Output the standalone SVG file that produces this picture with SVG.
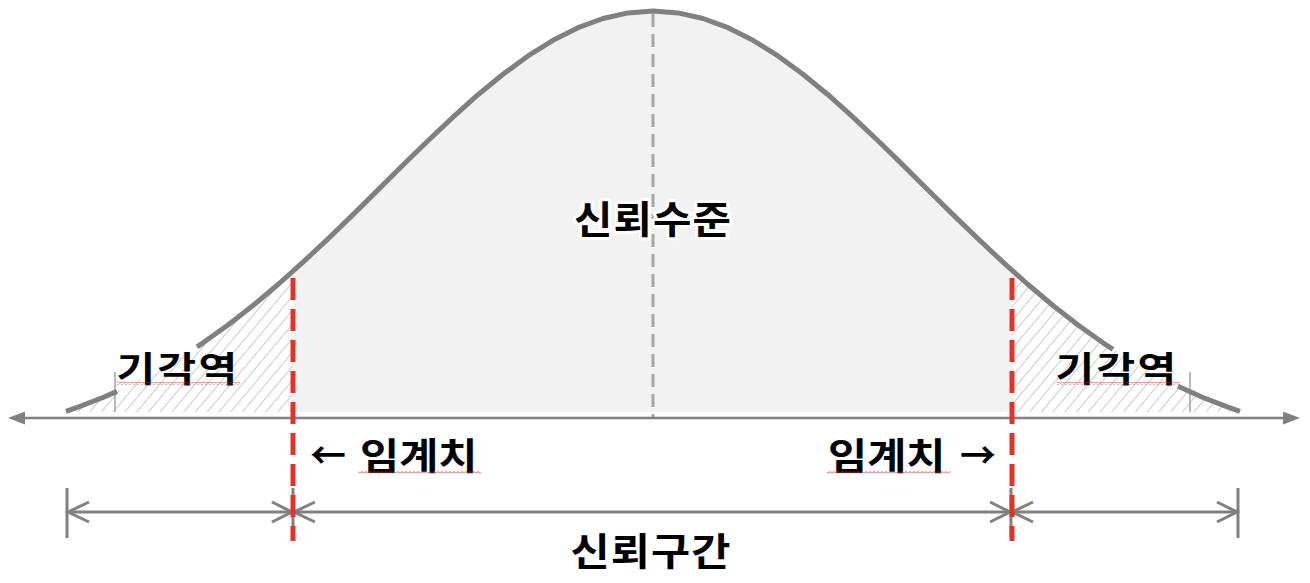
<svg xmlns="http://www.w3.org/2000/svg" width="1310" height="583" viewBox="0 0 1310 583">
<style>
.curve{fill:none;stroke:#808080;stroke-width:5;stroke-linejoin:round;stroke-linecap:butt}
.axis{fill:none;stroke:#808080;stroke-width:2.5}
.dim{fill:none;stroke:#808080;stroke-width:3}
.red{fill:none;stroke:#e2322a;stroke-width:5;stroke-dasharray:22 9}
.ctr{fill:none;stroke:#a6a6a6;stroke-width:3;stroke-dasharray:13 7}
.tick{fill:none;stroke:#a0a0a0;stroke-width:1.5}
.lbl{font-family:"Noto Sans CJK KR","Noto Sans",sans-serif;font-weight:700;fill:#000}
.halo{stroke:#ffffff;stroke-width:6;stroke-linejoin:round;paint-order:stroke}
</style>
<defs>
<pattern id="hatch" patternUnits="userSpaceOnUse" width="9" height="9" patternTransform="rotate(40)">
<line x1="0" y1="0" x2="0" y2="9" stroke="#cbcbcb" stroke-width="2"/>
</pattern>
<pattern id="squig" patternUnits="userSpaceOnUse" width="4" height="3">
<polyline points="0,2.5 2,0.5 4,2.5" fill="none" stroke="#e03030" stroke-width="0.9"/>
</pattern>
</defs>

<g id="areas">
<polygon fill="#f2f2f2" points="293,271.3 303,262.2 328,238.8 353,214.6 378,189.9 403,165.1 428,140.7 453,117.1 478,94.7 503,74.2 528,55.9 553,40.3 578,27.7 603,18.5 628,12.9 653,11 678,12.9 703,18.5 728,27.7 753,40.3 778,55.9 803,74.2 828,94.7 853,117.1 878,140.7 903,165.1 928,189.9 953,214.6 978,238.8 1003,262.2 1012,270.5 1012,412 293,412"/>
<polygon fill="url(#hatch)" points="66,411.4 78,407.2 103,397.5 128,386.3 153,373.4 178,359.0 203,342.8 228,325.0 253,305.5 278,284.5 293,271.3 293,412 66,412"/>
<polygon fill="url(#hatch)" points="1012,270.5 1028,284.5 1053,305.5 1078,325.0 1103,342.8 1128,359.0 1153,373.4 1178,386.3 1203,397.5 1228,407.2 1240,411.4 1240,412 1012,412"/>
</g>

<g id="connectors">
<line class="ctr" x1="653" y1="14" x2="653" y2="418"/>
<line class="axis" x1="20" y1="418" x2="1290" y2="418"/>
<polygon fill="#808080" points="8,418 25,411.5 25,424.5"/>
<polygon fill="#808080" points="1300,418 1283,411.5 1283,424.5"/>
<line class="tick" x1="115" y1="372" x2="115" y2="412"/>
<line class="tick" x1="1190" y1="372" x2="1190" y2="412"/>
<line class="dim" x1="67" y1="488" x2="67" y2="538"/>
<line class="dim" x1="293" y1="488" x2="293" y2="538"/>
<line class="dim" x1="1011" y1="488" x2="1011" y2="538"/>
<line class="dim" x1="1238" y1="488" x2="1238" y2="538"/>
<line class="dim" x1="67" y1="512" x2="1238" y2="512"/>
<polyline class="dim" points="89,502 68,512 89,522"/>
<polyline class="dim" points="272,502 292,512 272,522"/>
<polyline class="dim" points="315,502 294,512 315,522"/>
<polyline class="dim" points="990,502 1010,512 990,522"/>
<polyline class="dim" points="1033,502 1012,512 1033,522"/>
<polyline class="dim" points="1217,502 1237,512 1217,522"/>
<polyline class="curve" points="66,411.4 78,407.2 103,397.5 117,391.4"/>
<polyline class="curve" points="197,346.8 203,342.8 228,325.0 253,305.5 278,284.5 303,262.2 328,238.8 353,214.6 378,189.9 403,165.1 428,140.7 453,117.1 478,94.7 503,74.2 528,55.9 553,40.3 578,27.7 603,18.5 628,12.9 653,11 678,12.9 703,18.5 728,27.7 753,40.3 778,55.9 803,74.2 828,94.7 853,117.1 878,140.7 903,165.1 928,189.9 953,214.6 978,238.8 1003,262.2 1028,284.5 1053,305.5 1078,325.0 1103,342.8 1113,349.4"/>
<polyline class="curve" points="1178,386.3 1203,397.5 1228,407.2 1240,411.4"/>
<line class="red" x1="293" y1="278" x2="293" y2="541"/>
<line class="red" x1="1012" y1="278" x2="1012" y2="541"/>
</g>

<g id="label-confidence-level">
<text class="lbl halo" transform="translate(653,233) scale(1.1,1)" font-size="38" letter-spacing="1" text-anchor="middle">신뢰수준</text>
</g>
<g id="label-reject-left">
<text class="lbl" transform="translate(178,382) scale(1.2,1)" font-size="35" letter-spacing="2" text-anchor="middle">기각역</text>
<rect x="117" y="382" width="123" height="3" fill="url(#squig)"/>
</g>
<g id="label-reject-right">
<text class="lbl" transform="translate(1117,382) scale(1.2,1)" font-size="35" letter-spacing="2" text-anchor="middle">기각역</text>
<rect x="1057" y="382" width="123" height="3" fill="url(#squig)"/>
</g>
<g id="label-critical-left">
<text class="lbl" x="310" y="469" font-size="36">←</text>
<text class="lbl" transform="translate(360,470) scale(1.15,1)" font-size="37">임계치</text>
<rect x="358" y="471" width="123" height="3" fill="url(#squig)"/>
</g>
<g id="label-critical-right">
<text class="lbl" transform="translate(828,470) scale(1.15,1)" font-size="37">임계치</text>
<text class="lbl" x="960" y="469" font-size="36">→</text>
<rect x="827" y="471" width="123" height="3" fill="url(#squig)"/>
</g>
<g id="label-confidence-interval">
<text class="lbl" transform="translate(651,565) scale(1.12,1)" font-size="38" letter-spacing="1" text-anchor="middle">신뢰구간</text>
</g>
</svg>
